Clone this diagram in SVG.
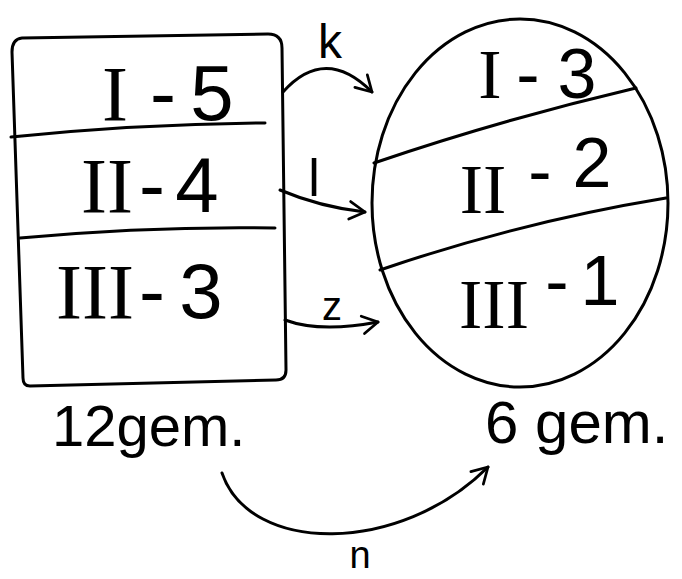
<svg xmlns="http://www.w3.org/2000/svg" width="682" height="579" viewBox="0 0 682 579">
<style>
.ln{fill:none;stroke:#000;stroke-width:3;stroke-linecap:round;stroke-linejoin:round}
.t{font-family:"Liberation Sans",Arial,sans-serif;fill:#000}
.r{font-family:"Liberation Serif","Times New Roman",serif}
</style>
<defs>
<marker id="arr" viewBox="0 0 20 20" refX="17" refY="10" markerWidth="22" markerHeight="22" markerUnits="userSpaceOnUse" orient="auto">
<path d="M3,2 L17,10 L3,18" fill="none" stroke="#000" stroke-width="2.5" stroke-linecap="round" stroke-linejoin="round"/>
</marker>
</defs>
<rect width="682" height="579" fill="#fff"/>
<g id="left-box">
<path class="ln" d="M22,38 L268,34 Q282,34 282,48 L286,370 Q286,380 276,380 L30,386 Q23,386 23,378 L12,52 Q12,39 22,38 Z"/>
<path class="ln" d="M11,137 Q140,124 265,123"/>
<path class="ln" d="M20,238 Q150,226 275,228"/>
<text class="t" font-size="78" text-anchor="middle" y="120"><tspan class="r" x="115">I</tspan><tspan x="163">-</tspan><tspan x="212">5</tspan></text>
<text class="t" font-size="78" text-anchor="middle" y="212"><tspan class="r" x="107">II</tspan><tspan x="152">-</tspan><tspan x="197">4</tspan></text>
<text class="t" font-size="78" text-anchor="middle" y="318"><tspan class="r" x="95">III</tspan><tspan x="152">-</tspan><tspan x="201">3</tspan></text>
<text class="t" font-size="58" x="52" y="446">12gem.</text>
</g>
<g id="right-oval">
<ellipse class="ln" cx="520" cy="203" rx="148" ry="184"/>
<path class="ln" d="M374,163 Q500,120 636,88"/>
<path class="ln" d="M380,270 Q520,222 666,198"/>
<text class="t" font-size="70" text-anchor="middle" y="98"><tspan class="r" x="490">I</tspan><tspan x="528">-</tspan><tspan x="577">3</tspan></text>
<text class="t" font-size="70" text-anchor="middle"><tspan class="r" x="483" y="213">II</tspan><tspan x="540" y="195">-</tspan><tspan x="592" y="187">2</tspan></text>
<text class="t" font-size="70" text-anchor="middle"><tspan class="r" x="494" y="328">III</tspan><tspan x="557" y="305">-</tspan><tspan x="600" y="305">1</tspan></text>
<text class="t" font-size="60" x="485" y="443">6 gem.</text>
</g>
<g id="connectors">
<path class="ln" d="M283,92 Q325,45 372,92" marker-end="url(#arr)"/>
<path class="ln" d="M280,190 Q320,207 365,212" marker-end="url(#arr)"/>
<path class="ln" d="M285,320 Q320,333 378,322" marker-end="url(#arr)"/>
<path class="ln" d="M222,473 C250,555 400,555 488,467" marker-end="url(#arr)"/>
<text class="t" font-size="48" text-anchor="middle" x="330" y="58">k</text>
<text class="t" font-size="52" text-anchor="middle" x="314" y="196">l</text>
<text class="t" font-size="40" text-anchor="middle" x="332" y="320">z</text>
<text class="t" font-size="38" text-anchor="middle" x="360" y="568">n</text>
</g>
</svg>
